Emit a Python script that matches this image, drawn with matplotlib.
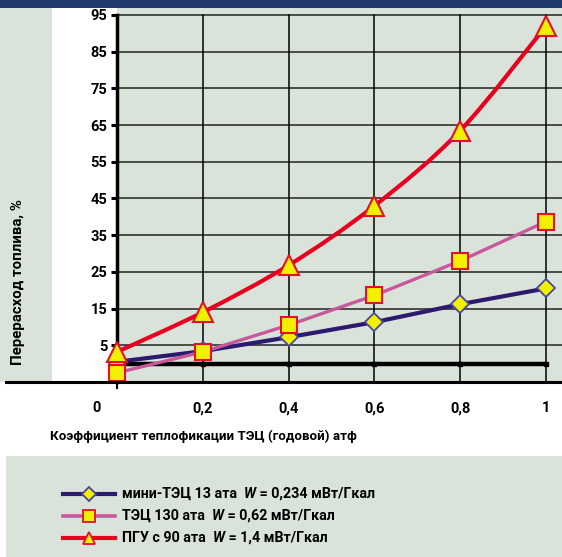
import numpy as np
import matplotlib
matplotlib.use("Agg")
import matplotlib.pyplot as plt
from matplotlib.path import Path
from matplotlib.patches import PathPatch, Rectangle
from matplotlib.lines import Line2D
from matplotlib import transforms

plt.rcParams['font.family'] = ['Roboto', 'DejaVu Sans']
plt.rcParams['font.weight'] = 'bold'

# data
x = [0, 0.2, 0.4, 0.6, 0.8, 1.0]
mini_tec = [0.5, 3.4, 7.2, 11.3, 16.2, 20.5]
tec_130 = [-2.5, 3.2, 10.5, 18.6, 28.0, 38.7]
pgu_90 = [3.2, 14.0, 26.8, 43.0, 63.5, 92.0]
yticks = [5, 15, 25, 35, 45, 55, 65, 75, 85, 95]
xtick_labels = ['0', '0,2', '0,4', '0,6', '0,8', '1']
legend_pre = ['мини-ТЭЦ 13 ата  ', 'ТЭЦ 130 ата  ', 'ПГУ с 90 ата  ']
legend_post = [' = 0,234 мВт/Гкал', ' = 0,62 мВт/Гкал', ' = 1,4 мВт/Гкал']

BG = '#d9e3da'
NAVY = '#1f3a6c'
PURPLE = '#2c1a6e'
PINK = '#c8589c'
RED = '#e8001e'
YEL = '#f0f000'

W, H = 562, 557
fig = plt.figure(figsize=(W / 100, H / 100), dpi=100)

def fx(px):
    return px / W

def fy(py):
    return (H - py) / H

# background blocks
fig.add_artist(Rectangle((0, fy(382)), fx(52), fy(8) - fy(382), transform=fig.transFigure,
                         facecolor=BG, edgecolor='none', zorder=0))
fig.add_artist(Rectangle((0, fy(8)), 1, 1 - fy(8), transform=fig.transFigure,
                         facecolor=NAVY, edgecolor='none', zorder=5))
fig.add_artist(Rectangle((fx(6), 0), 1 - fx(6), fy(456), transform=fig.transFigure,
                         facecolor=BG, edgecolor='none', zorder=0))

ax = fig.add_axes([fx(117), fy(382), fx(562 - 117), fy(8) - fy(382)])
ax.set_facecolor(BG)
ax.set_xlim(0, (562 - 117) / (546 - 117))
ax.set_ylim(-5, 95 + 7 / 3.674)

for s in ['top', 'right', 'bottom']:
    ax.spines[s].set_visible(False)
ax.spines['left'].set_linewidth(2.5)
ax.spines['left'].set_bounds(-5, 95)

ax.set_yticks(yticks)
ax.set_yticklabels([str(v) for v in yticks], fontsize=10.5, fontweight='bold')
ax.tick_params(axis='y', length=4, width=2.2, pad=3)
ax.set_xticks(x)
ax.set_xticklabels(xtick_labels, fontsize=10.5, fontweight='bold')
ax.tick_params(axis='x', length=0, pad=14)
lab0 = ax.get_xticklabels()[0]
lab0.set_transform(lab0.get_transform() + transforms.ScaledTranslation(-0.2, 0, fig.dpi_scale_trans))

for v in yticks:
    ax.axhline(v, color='#222222', lw=1.1, zorder=1)
for v in x[1:]:
    ax.axvline(v, ymax=(95 + 5) / (100 + 7 / 3.674), color='black', lw=1.1, zorder=1)
ax.plot([0, 1], [0, 0], color='black', lw=3.2, zorder=2, solid_capstyle='butt')
ax.plot(x[1:], [0] * 5, ls='none', marker='s', ms=3.5, color='black', zorder=2)
ax.plot([0, 0], [-5, -6.7], color='black', lw=1.5, clip_on=False)

# bottom frame line
fig.add_artist(Line2D([fx(6), 1], [fy(382), fy(382)], transform=fig.transFigure,
                      color='black', lw=2.2, zorder=3))


def smooth_path(xs, ys):
    pts = np.column_stack([xs, ys])
    verts = [pts[0]]
    codes = [Path.MOVETO]
    n = len(pts)
    for i in range(n - 1):
        p0 = pts[max(i - 1, 0)]
        p1 = pts[i]
        p2 = pts[i + 1]
        p3 = pts[min(i + 2, n - 1)]
        c1 = p1 + (p2 - p0) / 6
        c2 = p2 - (p3 - p1) / 6
        verts += [c1, c2, p2]
        codes += [Path.CURVE4] * 3
    return Path(verts, codes)


ax.plot(x, mini_tec, color=PURPLE, lw=3, zorder=3, clip_on=False)
ax.plot(x, tec_130, color=PINK, lw=2.4, zorder=3, clip_on=False)
ax.add_patch(PathPatch(smooth_path(x, pgu_90), facecolor='none', edgecolor=RED, lw=3, zorder=4))

ax.plot(x, mini_tec, ls='none', marker='D', ms=9, mfc=YEL, mec='#4a46a0', mew=1.3, zorder=5, clip_on=False)
ax.plot(x, tec_130, ls='none', marker='s', ms=12, mfc=YEL, mec='#e3102a', mew=1.5, zorder=6, clip_on=False)
ax.plot(x, pgu_90, ls='none', marker='^', ms=14, mfc=YEL, mec='#e3102a', mew=1.5, zorder=7, clip_on=False)

fig.text(fx(18), fy(282), 'Перерасход топлива, %', rotation=90, ha='center', va='center',
         fontsize=10.8, fontweight='bold')
fig.text(fx(50), fy(436), 'Коэффициент теплофикации ТЭЦ (годовой) атф', ha='left', va='center',
         fontsize=9.6, fontweight='bold')

# legend
styles = [(PURPLE, 3, 'D', 7, '#4a46a0'), (PINK, 2.6, 's', 8, '#e3102a'), (RED, 3, '^', 9, '#e3102a')]
rows = [494, 516, 538]
for i, (c, lw, m, ms, mec) in enumerate(styles):
    yy = fy(rows[i])
    fig.add_artist(Line2D([fx(63), fx(115)], [yy, yy], transform=fig.transFigure, color=c, lw=lw))
    fig.add_artist(Line2D([fx(89)], [yy], transform=fig.transFigure, ls='none', marker=m, ms=ms,
                          mfc=YEL, mec=mec, mew=1.3))
    t1 = fig.text(fx(122), yy, legend_pre[i], ha='left', va='center', fontsize=10.3, fontweight='bold')
    a = plt.annotate('W', xy=(1, 0), xycoords=t1, ha='left', va='bottom', fontsize=10.3,
                     fontweight='bold', style='italic', annotation_clip=False)
    plt.annotate(legend_post[i], xy=(1, 0), xycoords=a, ha='left', va='bottom', fontsize=10.3,
                 fontweight='bold', annotation_clip=False)

fig.savefig('out.png', dpi=100, facecolor='white')
